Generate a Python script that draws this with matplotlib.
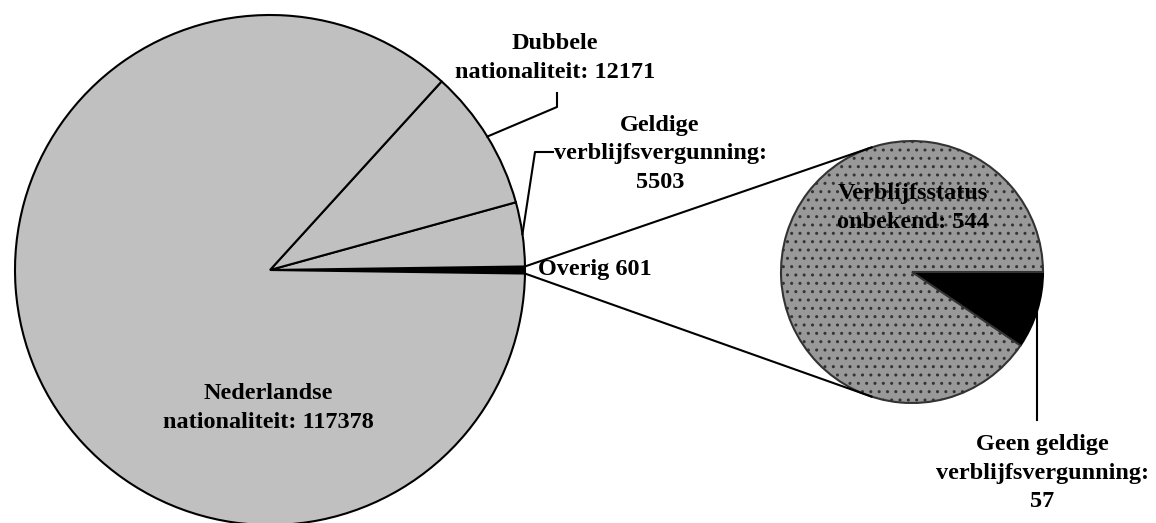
import numpy as np
import matplotlib.pyplot as plt

# main pie
main_labels = ['Overig 601', 'Geldige\nverblijfsvergunning:\n5503',
               'Dubbele\nnationaliteit: 12171', 'Nederlandse\nnationaliteit: 117378']
main_values = [601, 5503, 12171, 117378]
main_colors = ['black', '#C0C0C0', '#C0C0C0', '#C0C0C0']

# breakdown of "Overig"
sub_labels = ['Geen geldige\nverblijfsvergunning:\n57', 'Verblijfsstatus\nonbekend: 544']
sub_values = [57, 544]
sub_colors = ['black', '#999999']

W, H = 1156, 523
fig = plt.figure(figsize=(W / 100, H / 100), dpi=100)
ax = fig.add_axes([0, 0, 1, 1])

font = dict(family='Liberation Serif', weight='bold', size=17.5, linespacing=1.45)
lw = 1.5

c1, r1 = (270, H - 270), 255
c2, r2 = (912, H - 272), 131

total = sum(main_values)
half = main_values[0] / total * 360 / 2

w1, _ = ax.pie(main_values, colors=main_colors, startangle=-half, counterclock=True,
               center=c1, radius=r1, wedgeprops=dict(edgecolor='black', linewidth=lw))

w2, _ = ax.pie(sub_values, colors=sub_colors, startangle=0, counterclock=False,
               center=c2, radius=r2, wedgeprops=dict(edgecolor='black', linewidth=lw))
w2[1].set_hatch('..')
w2[1].set_edgecolor('#333333')


def edge_pt(c, r, ang):
    a = np.deg2rad(ang)
    return c[0] + r * np.cos(a), c[1] + r * np.sin(a)


# connector lines between the two pies
for s in (1, -1):
    p1 = edge_pt(c1, r1, s * half)
    p2 = edge_pt(c2, r2, s * 108)
    ax.plot([p1[0], p2[0]], [p1[1], p2[1]], color='black', lw=lw)

# leader lines
mid_dub = (w1[2].theta1 + w1[2].theta2) / 2
p = edge_pt(c1, r1, mid_dub)
ax.plot([p[0], 557, 557], [p[1], H - 107, H - 93], color='black', lw=lw)

mid_geld = (w1[1].theta1 + w1[1].theta2) / 2
p = edge_pt(c1, r1, mid_geld)
ax.plot([p[0], 535, 553], [p[1], H - 152, H - 152], color='black', lw=lw)

mid_geen = (w2[0].theta1 + w2[0].theta2) / 2
p = edge_pt(c2, r2, mid_geen)
ax.plot([p[0], p[0]], [p[1], H - 420], color='black', lw=lw)

# labels
ax.text(555, H - 58, main_labels[2], ha='center', va='center', **font)
ax.text(660, H - 154, main_labels[1], ha='center', va='center', **font)
ax.text(538, H - 270, main_labels[0], ha='left', va='center', **font)
ax.text(268, H - 408, main_labels[3], ha='center', va='center', **font)
ax.text(913, H - 208, sub_labels[1], ha='center', va='center', **font)
ax.text(1042, H - 473, sub_labels[0], ha='center', va='center', **font)

ax.set_xlim(0, W)
ax.set_ylim(0, H)
ax.set_aspect('equal')
ax.axis('off')

fig.savefig('out.png', dpi=100)
